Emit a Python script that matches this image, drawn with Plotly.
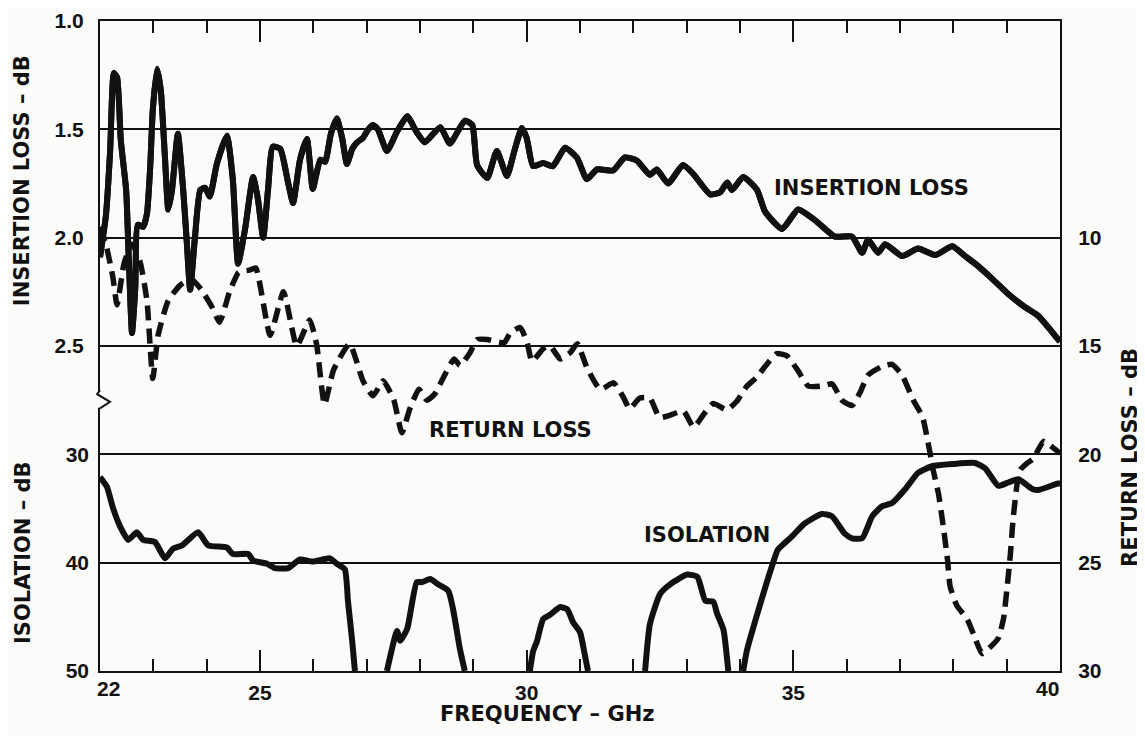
import plotly.graph_objects as go

# ---------------- data ----------------
freq_il = [22.00, 22.06, 22.11, 22.19, 22.26, 22.32, 22.39, 22.49, 22.54, 22.60,
           22.66, 22.71, 22.81, 22.88, 22.94, 22.99, 23.07, 23.14, 23.22, 23.28,
           23.35, 23.46, 23.56, 23.63, 23.69, 23.78, 23.88, 23.97, 24.06, 24.19,
           24.38, 24.49, 24.59, 24.72, 24.87, 24.96, 25.06, 25.15, 25.24, 25.38,
           25.53, 25.62, 25.75, 25.88, 25.99, 26.13, 26.22, 26.33, 26.44, 26.54,
           26.63, 26.73, 26.82, 26.93, 27.03, 27.12, 27.21, 27.38, 27.57, 27.76,
           27.93, 28.09, 28.38, 28.56, 28.84, 28.98, 29.07, 29.26, 29.44, 29.63,
           29.78, 29.91, 30.00, 30.12, 30.31, 30.49, 30.72, 30.94, 31.13, 31.32,
           31.62, 31.84, 32.07, 32.31, 32.44, 32.65, 32.93, 33.12, 33.44, 33.63,
           33.76, 33.85, 34.06, 34.32, 34.47, 34.79, 35.09, 35.41, 35.78, 36.10,
           36.29, 36.40, 36.59, 36.72, 37.04, 37.34, 37.66, 37.98, 38.22, 38.46,
           38.73, 39.03, 39.34, 39.59, 40.00]
insertion_loss = [2.09, 1.99, 1.90, 1.60, 1.24, 1.26, 1.55, 1.78, 2.10, 2.44,
                  2.24, 1.94, 1.95, 1.89, 1.68, 1.41, 1.22, 1.32, 1.64, 1.87,
                  1.78, 1.52, 1.78, 2.03, 2.24, 2.00, 1.78, 1.77, 1.81, 1.66,
                  1.53, 1.73, 2.12, 1.96, 1.72, 1.82, 2.00, 1.78, 1.58, 1.59,
                  1.75, 1.84, 1.64, 1.545, 1.775, 1.64, 1.65, 1.52, 1.45, 1.54,
                  1.66, 1.59, 1.56, 1.54, 1.50, 1.48, 1.50, 1.60, 1.51, 1.44,
                  1.51, 1.56, 1.49, 1.565, 1.46, 1.48, 1.665, 1.725, 1.60, 1.715,
                  1.59, 1.494, 1.54, 1.67, 1.655, 1.67, 1.585, 1.63, 1.73, 1.685,
                  1.69, 1.63, 1.645, 1.71, 1.685, 1.75, 1.665, 1.705, 1.80, 1.79,
                  1.745, 1.78, 1.72, 1.78, 1.88, 1.96, 1.87, 1.92, 1.995, 1.995,
                  2.07, 2.01, 2.07, 2.03, 2.085, 2.05, 2.08, 2.04, 2.085, 2.13,
                  2.19, 2.26, 2.32, 2.36, 2.48]

freq_rl = [22.00, 22.11, 22.24, 22.32, 22.45, 22.60, 22.75, 22.88, 22.99, 23.09,
           23.28, 23.50, 23.70, 23.90, 24.10, 24.24, 24.43, 24.60, 24.80, 24.92,
           25.19, 25.44, 25.69, 25.93, 26.06, 26.21, 26.38, 26.68, 26.93, 27.12,
           27.31, 27.51, 27.66, 27.81, 27.98, 28.13, 28.28, 28.45, 28.64, 28.75,
           28.94, 29.07, 29.26, 29.58, 29.69, 29.88, 30.01, 30.10, 30.32, 30.44,
           30.63, 30.82, 30.95, 31.13, 31.38, 31.63, 31.82, 31.93, 32.12, 32.31,
           32.49, 32.68, 32.94, 33.13, 33.32, 33.50, 33.75, 33.94, 34.13, 34.31,
           34.50, 34.69, 34.88, 35.09, 35.28, 35.54, 35.73, 35.91, 36.10, 36.25,
           36.40, 36.66, 36.85, 37.04, 37.25, 37.42, 37.53, 37.62, 37.72, 37.81,
           37.89, 37.94, 38.07, 38.26, 38.41, 38.54, 38.69, 38.84, 38.94, 39.01,
           39.07, 39.12, 39.20, 39.26, 39.39, 39.50, 39.69, 39.82, 40.00]
return_loss = [9.5, 10.3, 11.8, 13.1, 11.2, 10.3, 11.1, 12.9, 16.5, 14.5,
               12.9, 12.2, 11.9, 12.4, 13.2, 13.9, 12.5, 11.6, 11.5, 11.4,
               14.5, 12.5, 15.0, 13.8, 14.9, 17.7, 16.1, 14.9, 16.6, 17.3,
               16.6, 17.5, 19.0, 17.9, 17.0, 17.5, 17.2, 16.4, 15.6, 15.9,
               15.3, 14.7, 14.7, 14.85, 14.4, 14.15, 14.85, 15.7, 15.1, 15.0,
               15.6, 15.3, 14.9, 16.0, 17.0, 16.7, 17.4, 17.9, 17.4, 17.4,
               18.3, 18.2, 18.0, 18.75, 18.15, 17.65, 17.95, 17.55, 16.85, 16.45,
               15.85, 15.35, 15.45, 16.15, 16.85, 16.85, 16.75, 17.5, 17.75, 17.15,
               16.35, 15.95, 15.85, 16.35, 17.5, 18.25, 19.5, 20.7, 21.8, 23.3,
               24.85, 26.1, 27.0, 27.6, 28.5, 29.2, 28.9, 28.5, 27.6, 26.1,
               24.6, 23.0, 21.3, 20.7, 20.4, 20.2, 19.4, 19.6, 19.95]

# isolation drops off scale (below 50 dB) between lobes -> gaps (None)
freq_iso = [22.00, 22.13, 22.24, 22.38, 22.53, 22.69, 22.81, 23.03, 23.22, 23.37,
            23.54, 23.84, 24.03, 24.38, 24.49, 24.78, 24.87, 25.13, 25.28, 25.53,
            25.75, 25.99, 26.31, 26.44, 26.59, 26.65, 26.73, 26.78, 27.05,
            27.38, 27.57, 27.63, 27.76, 27.94, 28.04, 28.19, 28.34, 28.53, 28.62,
            28.75, 28.84, 29.45,
            30.06, 30.12, 30.19, 30.31, 30.44, 30.63, 30.76, 30.87, 31.00, 31.09,
            31.15, 31.70,
            32.22, 32.31, 32.50, 32.69, 33.01, 33.20, 33.35, 33.50, 33.57, 33.69,
            33.78, 33.92,
            34.06, 34.13, 34.38, 34.62, 34.71, 34.97, 35.21, 35.53, 35.72, 35.96,
            36.10, 36.29, 36.48, 36.66, 36.85, 37.10, 37.34, 37.60, 37.98, 38.41,
            38.60, 38.84, 39.03, 39.22, 39.48, 39.59, 39.96, 40.00]
isolation = [32.1, 33.0, 34.9, 36.7, 37.9, 37.2, 37.9, 38.1, 39.6, 38.7,
             38.4, 37.2, 38.4, 38.6, 39.2, 39.2, 39.8, 40.1, 40.5, 40.5,
             39.7, 39.9, 39.6, 40.1, 40.6, 43.6, 47.3, 50.0, None,
             50.0, 46.3, 47.2, 46.1, 41.8, 41.8, 41.5, 42.0, 42.6, 44.3,
             48.0, 50.0, None,
             50.0, 48.2, 47.3, 45.2, 44.8, 44.1, 44.3, 45.5, 46.4, 48.5,
             50.0, None,
             50.0, 45.7, 42.9, 42.0, 41.1, 41.3, 43.5, 43.6, 44.7, 46.2,
             50.0, None,
             50.0, 48.1, 43.8, 40.0, 38.8, 37.6, 36.4, 35.5, 35.7, 37.3,
             37.75, 37.75, 35.7, 34.8, 34.5, 33.2, 31.7, 31.1, 30.9, 30.8,
             31.3, 32.9, 32.6, 32.3, 33.2, 33.3, 32.7, 32.7]

x_major_ticks = [25, 30, 35]
x_edge_labels = [22, 40]
il_ticks = [1.0, 1.5, 2.0, 2.5]
iso_ticks = [30, 40, 50]
rl_ticks = [10, 15, 20, 25, 30]

# ---------------- styling ----------------
INK = "#111111"
BG = "#fbfbf9"
num_font = dict(family="Liberation Sans, Arial, sans-serif", size=21, color=INK, weight="bold")
txt_font = dict(family="DejaVu Sans, sans-serif", size=21, color=INK, weight="bold")
il_line = dict(color=INK, width=6, shape="spline", smoothing=0.5)

fig = go.Figure()
# main x/y pair must carry a trace so the y2/y3 overlays are drawn
fig.add_trace(go.Scatter(x=freq_il, y=insertion_loss, xaxis="x", yaxis="y",
                         mode="lines", name="INSERTION LOSS", line=il_line))
fig.add_trace(go.Scatter(x=freq_iso, y=isolation, xaxis="x", yaxis="y2", mode="lines",
                         name="ISOLATION", connectgaps=False,
                         line=dict(color=INK, width=6, shape="spline", smoothing=0.5)))
fig.add_trace(go.Scatter(x=freq_rl, y=return_loss, xaxis="x", yaxis="y3", mode="lines",
                         name="RETURN LOSS",
                         line=dict(color=INK, width=5.5, dash="15px,8px",
                                   shape="spline", smoothing=0.5)))
# same insertion-loss series on the top frequency axis, so that axis (ticks) is drawn
fig.add_trace(go.Scatter(x=freq_il, y=insertion_loss, xaxis="x2", yaxis="y",
                         mode="lines", name="INSERTION LOSS", line=il_line,
                         hoverinfo="skip"))

tick_style = dict(
    range=[22, 40], tickvals=x_major_ticks,
    ticks="inside", ticklen=21, tickwidth=2, tickcolor=INK,
    minor=dict(tick0=22, dtick=1, ticks="inside", ticklen=12, tickwidth=2,
               tickcolor=INK, showgrid=False),
    showline=True, linecolor=INK, linewidth=2, automargin=False,
    showgrid=False, zeroline=False)

# page body adds an 8px offset, so the figure is 8px smaller than the window
fig.update_layout(
    width=1137, height=728,
    margin=dict(l=92, r=85, t=13, b=65, autoexpand=False),
    paper_bgcolor=BG, plot_bgcolor=BG,
    showlegend=False,
    xaxis=dict(**tick_style, ticktext=[str(v) for v in x_major_ticks],
               tickfont=num_font, ticklabelstandoff=2),
    xaxis2=dict(**tick_style, overlaying="x", side="top", anchor="y",
                showticklabels=False),
    yaxis=dict(
        range=[4.0, 1.0], tickvals=il_ticks, ticktext=["%.1f" % v for v in il_ticks],
        ticks="", showline=True, linecolor=INK, linewidth=2, automargin=False,
        showgrid=True, gridcolor=INK, gridwidth=1.5, zeroline=False,
        tickfont=num_font, ticklabelstandoff=10),
    yaxis2=dict(
        range=[50, -10], overlaying="y", side="left", tickvals=iso_ticks,
        ticktext=[str(v) for v in iso_ticks], ticks="", showline=False, automargin=False,
        showgrid=True, gridcolor=INK, gridwidth=1.5, zeroline=False,
        tickfont=num_font, ticklabelstandoff=10),
    yaxis3=dict(
        range=[30, 0], overlaying="y", side="right", tickvals=rl_ticks,
        ticktext=[str(v) for v in rl_ticks], ticks="", showline=True, automargin=False,
        linecolor=INK, linewidth=2, showgrid=False, zeroline=False,
        tickfont=num_font, ticklabelstandoff=12),
)

C = dict(showarrow=False, xanchor="center", yanchor="middle")
annotations = [
    dict(x=x_edge_labels[0], y=0, xref="x", yref="paper", text=str(x_edge_labels[0]),
         showarrow=False, xanchor="center", yanchor="top", xshift=8, yshift=-4, font=num_font),
    dict(x=x_edge_labels[1], y=0, xref="x", yref="paper", text=str(x_edge_labels[1]),
         showarrow=False, xanchor="center", yanchor="top", xshift=-13, yshift=-4, font=num_font),
    dict(x=-0.081, y=0.754, xref="paper", yref="paper", text="INSERTION LOSS – dB",
         textangle=-90, font=txt_font, **C),
    dict(x=-0.081, y=0.182, xref="paper", yref="paper", text="ISOLATION – dB",
         textangle=-90, font=txt_font, **C),
    dict(x=1.073, y=0.328, xref="paper", yref="paper", text="RETURN LOSS – dB",
         textangle=-90, font=txt_font, **C),
    dict(x=0.466, y=-0.066, xref="paper", yref="paper", text="FREQUENCY – GHz",
         font=txt_font, **C),
    dict(x=34.6, y=1.77, xref="x", yref="y", text="INSERTION LOSS",
         showarrow=False, xanchor="left", yanchor="middle", font=txt_font),
    dict(x=28.13, y=18.87, xref="x", yref="y3", text="RETURN LOSS",
         showarrow=False, xanchor="left", yanchor="middle", font=txt_font),
    dict(x=32.16, y=37.44, xref="x", yref="y2", text="ISOLATION",
         showarrow=False, xanchor="left", yanchor="middle", font=txt_font),
]
fig.update_layout(annotations=annotations)

# axis break mark on the left axis
fig.add_shape(type="rect", xref="paper", yref="paper", x0=-0.004, x1=0.004, y0=0.405, y1=0.430,
              line=dict(width=0), fillcolor=BG, layer="above")
fig.add_shape(type="path", xref="paper", yref="paper",
              path="M 0 0.432 L -0.003 0.426 L 0.0104 0.414 L 0 0.404",
              line=dict(color=INK, width=2), layer="above")

fig.write_html("out.html")
